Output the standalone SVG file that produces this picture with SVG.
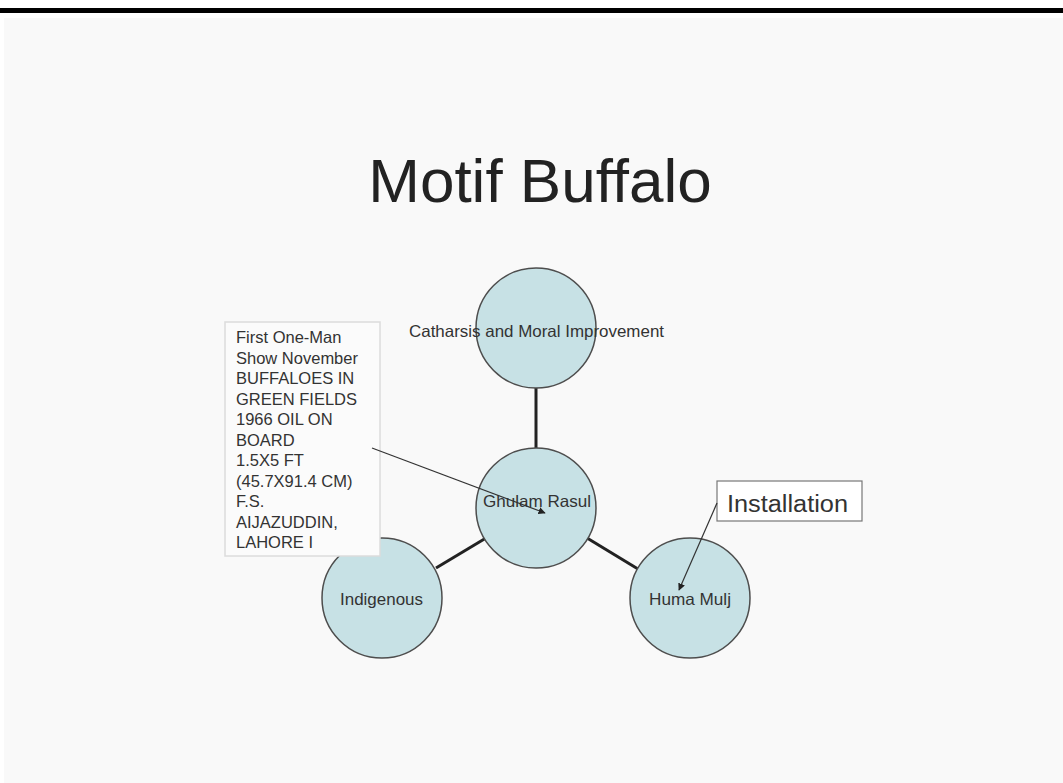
<svg xmlns="http://www.w3.org/2000/svg" width="1063" height="783" viewBox="0 0 1063 783">
<defs>
<style>
.node circle{fill:#c7e1e5;stroke:#4d4d4d;stroke-width:1.5}
.lbl{font-family:"Liberation Sans",Arial,sans-serif;font-size:16.5px;fill:#333;text-anchor:middle}
.box{font-family:"Liberation Sans",Arial,sans-serif;font-size:16.5px;fill:#333}
.conn{stroke:#222;stroke-width:3;fill:none}
.ptr{stroke:#333;stroke-width:1.2;fill:none;marker-end:url(#ah)}
</style>
<marker id="ah" viewBox="0 0 10 10" refX="9" refY="5" markerWidth="6" markerHeight="6" orient="auto">
<path d="M0,0 L10,5 L0,10 z" fill="#222"/>
</marker>
</defs>
<rect x="0" y="0" width="1063" height="783" fill="#ffffff"/>
<rect x="0" y="8" width="1063" height="5" fill="#000"/>
<rect x="4" y="18" width="1059" height="765" fill="#f9f9f9"/>
<text id="title" x="540" y="202" font-family="'Liberation Sans',Arial,sans-serif" font-size="62" fill="#222" text-anchor="middle">Motif Buffalo</text>
<g id="connectors">
<line class="conn" x1="536" y1="388" x2="536" y2="448"/>
<line class="conn" x1="486" y1="538" x2="436" y2="568"/>
<line class="conn" x1="587" y1="538" x2="638" y2="569"/>
</g>
<g id="n-catharsis" class="node">
<circle cx="536" cy="328" r="60"/>
<text class="lbl" x="536.5" y="337" textLength="255" lengthAdjust="spacingAndGlyphs">Catharsis and Moral Improvement</text>
</g>
<g id="n-ghulam" class="node">
<circle cx="536" cy="508" r="60"/>
<text class="lbl" x="537" y="507" textLength="108" lengthAdjust="spacingAndGlyphs">Ghulam Rasul</text>
</g>
<g id="n-indigenous" class="node">
<circle cx="382" cy="598" r="60"/>
<text class="lbl" x="381.5" y="605" textLength="83" lengthAdjust="spacingAndGlyphs">Indigenous</text>
</g>
<g id="n-huma" class="node">
<circle cx="690" cy="598" r="60"/>
<text class="lbl" x="690" y="605" textLength="82" lengthAdjust="spacingAndGlyphs">Huma Mulj</text>
</g>
<g id="note">
<rect x="225" y="322" width="155" height="234" fill="#fbfbfb" stroke="#dcdcdc" stroke-width="1.5"/>
<text class="box" x="236" y="343">
<tspan x="236">First One-Man</tspan>
<tspan x="236" dy="20.5">Show November</tspan>
<tspan x="236" dy="20.5">BUFFALOES IN</tspan>
<tspan x="236" dy="20.5">GREEN FIELDS</tspan>
<tspan x="236" dy="20.5">1966 OIL ON</tspan>
<tspan x="236" dy="20.5">BOARD</tspan>
<tspan x="236" dy="20.5">1.5X5 FT</tspan>
<tspan x="236" dy="20.5">(45.7X91.4 CM)</tspan>
<tspan x="236" dy="20.5">F.S.</tspan>
<tspan x="236" dy="20.5">AIJAZUDDIN,</tspan>
<tspan x="236" dy="20.5">LAHORE I</tspan>
</text>
<line class="ptr" x1="372" y1="448" x2="545" y2="513"/>
</g>
<g id="installation">
<rect x="717" y="481" width="145" height="40" fill="#fff" stroke="#777" stroke-width="1.2"/>
<text x="727" y="512" font-family="'Liberation Sans',Arial,sans-serif" font-size="23" fill="#333" textLength="121" lengthAdjust="spacingAndGlyphs">Installation</text>
<line class="ptr" x1="717" y1="503" x2="679" y2="590"/>
</g>
</svg>
